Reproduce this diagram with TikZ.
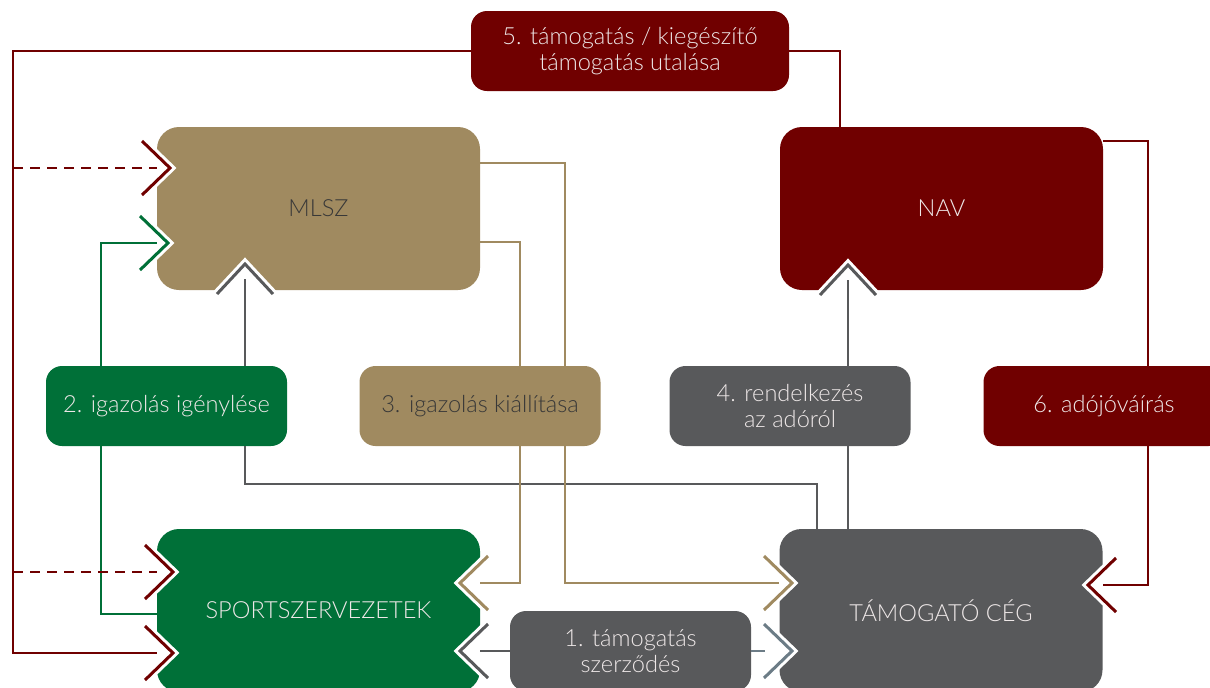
\documentclass[tikz,border=0pt]{standalone}
\usepackage{fontspec}
\setmainfont{Lato}[UprightFont=* Light]
\definecolor{nred}{HTML}{700000}
\definecolor{ntan}{HTML}{A08A60}
\definecolor{ngreen}{HTML}{007038}
\definecolor{ngrey}{HTML}{58595B}
\definecolor{nslate}{HTML}{6C7C86}
\definecolor{txtlight}{HTML}{EEE8E8}
\definecolor{txtdark}{HTML}{383838}
% open arrow head cut into a box: colour, tip, arm 1, arm 2
\newcommand\chevron[4]{%
  \fill[white] (#2) ++(#3) -- (#2) -- +(#4) -- cycle;
  \draw[white,line width=4.5pt] (#2) ++(#3) -- (#2) -- +(#4);
  \draw[#1,line width=1.5pt] (#2) ++(#3) -- (#2) -- +(#4);
}
\begin{document}
\begin{tikzpicture}[x=0.5pt,y=-0.5pt,
  box/.style={rounded corners=11pt,inner sep=0pt,minimum width=161.5pt,minimum height=81.5pt,font=\fontsize{11.8}{13}\selectfont},
  lbl/.style={rounded corners=8pt,inner sep=0pt,minimum width=120.5pt,minimum height=40pt,align=center,font=\fontsize{11.8}{13}\selectfont},
  redln/.style={nred,line width=1pt},
  grnln/.style={ngreen,line width=1pt},
  tanln/.style={ntan,line width=1pt},
  gryln/.style={ngrey,line width=1pt},
  dashln/.style={dash pattern=on 5pt off 3.5pt}]
\useasboundingbox (0,0) rectangle (1210,687);
% main boxes
\node[box,fill=ntan,text=txtdark] (mlsz) at (318.5,208.5) {MLSZ};
\node[box,fill=nred,text=txtlight] (nav) at (941.5,208.5) {NAV};
\node[box,fill=ngreen,text=txtlight] (sport) at (318.5,610.5) {SPORTSZERVEZETEK};
\node[box,fill=ngrey,text=txtlight] (tam) at (941,610.5) {TÁMOGATÓ CÉG};
% step labels
\node[lbl,fill=nred,text=txtlight,minimum width=159pt] (l5) at (630,51) {5. támogatás / kiegészítő\\támogatás utalása};
\node[lbl,fill=ngreen,text=txtlight] (l2) at (166.5,406) {2. igazolás igénylése};
\node[lbl,fill=ntan,text=txtdark] (l3) at (480,406) {3. igazolás kiállítása};
\node[lbl,fill=ngrey,text=txtlight] (l4) at (790,406) {4. rendelkezés\\az adóról};
\node[lbl,fill=nred,text=txtlight] (l6) at (1104,406) {6. adójóváírás};
\node[lbl,fill=ngrey,text=txtlight] (l1) at (630.5,651) {1. támogatás\\szerződés};
% arrow tips
\coordinate (m1) at (170,168);
\coordinate (m2) at (168,243);
\coordinate (m3) at (245,264);
\coordinate (n1) at (848,265);
\coordinate (s1) at (173,572);
\coordinate (s2) at (173,653);
\coordinate (s3) at (460,583);
\coordinate (s4) at (460,651);
\coordinate (t1) at (792,583);
\coordinate (t2) at (792,651);
\coordinate (t3) at (1088,585);
\chevron{nred}{m1}{-28,-27}{-28,27}
\chevron{ngreen}{m2}{-28,-27}{-28,27}
\chevron{ngrey}{m3}{-28,30}{28,30}
\chevron{ngrey}{n1}{-28,30}{28,30}
\chevron{nred}{s1}{-28,-27}{-28,27}
\chevron{nred}{s2}{-28,-27}{-28,27}
\chevron{ntan}{s3}{28,-27}{28,27}
\chevron{ngrey}{s4}{28,-27}{28,27}
\chevron{ntan}{t1}{-28,-27}{-28,27}
\chevron{nslate}{t2}{-28,-27}{-28,27}
\chevron{nred}{t3}{28,-27}{28,27}
% 1
\draw[gryln] (l1.west) -- (s4 -| sport.east);
\draw[nslate,line width=1pt] (l1.east) -- ([xshift=-7pt]t2 -| tam.west);
% 2
\draw[grnln] (l2.north -| 101,0) |- (m2 -| mlsz.west);
\draw[grnln] (l2.south -| 101,0) |- (sport.west |- 0,614);
\draw[gryln] ([yshift=-7.5pt]m3) -- (l2.north -| m3);
\draw[gryln] (l2.south -| m3) -- (m3 |- 0,484) -| (tam.north -| 817,0);
% 3
\draw[tanln] (mlsz.east |- 0,163) -| (l3.north -| 565,0);
\draw[tanln] (mlsz.east |- 0,242) -| (l3.north -| 520,0);
\draw[tanln] (l3.south -| 565,0) |- (t1 -| tam.west);
\draw[tanln] (l3.south -| 520,0) |- (s3 -| sport.east);
% 4
\draw[gryln] (tam.north -| n1) -- (l4.south -| n1);
\draw[gryln] (l4.north -| n1) -- ([yshift=-7.5pt]n1);
% 5
\draw[redln] (nav.north -| 840,0) |- (l5.east);
\draw[redln] (l5.west) -| (13,653) -- (s2 -| sport.west);
\draw[redln,dashln] (13,168) -- (m1 -| mlsz.west);
\draw[redln,dashln] (13,572) -- (s1 -| sport.west);
% 6
\draw[redln] (nav.east |- 0,141) -| (l6.north -| 1148,0);
\draw[redln] (l6.south -| 1148,0) |- (t3 -| tam.east);
\end{tikzpicture}
\end{document}
